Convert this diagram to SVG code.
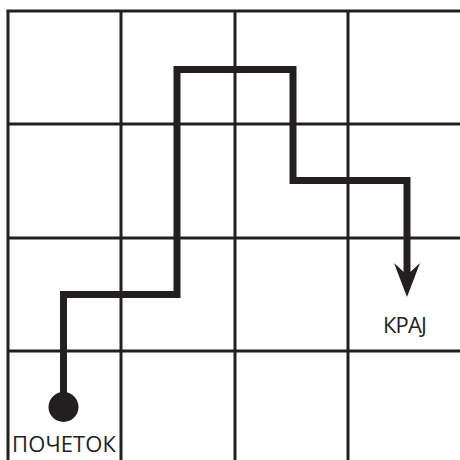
<svg xmlns="http://www.w3.org/2000/svg" width="460" height="460" viewBox="0 0 460 460">
  <style>
    .grid line { stroke: #231f20; stroke-width: 3; }
    .route { fill: none; stroke: #231f20; stroke-width: 7; stroke-linejoin: miter; stroke-linecap: butt; }
    .ink { fill: #231f20; }
    .label { font-family: "Open Sans", "Noto Sans", sans-serif; font-size: 22px; fill: #231f20; }
  </style>

  <rect width="460" height="460" fill="#ffffff"/>

  <!-- 4x4 grid, open on the right and bottom -->
  <g class="grid">
    <line x1="8" y1="11" x2="8" y2="460"/>
    <line x1="121" y1="11" x2="121" y2="460"/>
    <line x1="235" y1="11" x2="235" y2="460"/>
    <line x1="348" y1="11" x2="348" y2="460"/>
    <line x1="6.5" y1="11" x2="460" y2="11"/>
    <line x1="8" y1="124" x2="460" y2="124"/>
    <line x1="8" y1="238" x2="460" y2="238"/>
    <line x1="8" y1="351" x2="460" y2="351"/>
  </g>

  <!-- connector: stepped route from start to end, with arrowhead -->
  <g id="connectors">
    <path class="route" d="M63.5,407 V294.5 H177 V69.5 H293 V180.5 H407 V276"/>
    <path class="ink" d="M394,263 L407,275 L420,263 L407,297 Z"/>
  </g>

  <g id="start">
    <circle class="ink" cx="63.5" cy="407" r="15"/>
    <text class="label" x="12" y="452" textLength="104">ПОЧЕТОК</text>
  </g>

  <g id="end">
    <text class="label" x="383" y="333" textLength="44">КРАЈ</text>
  </g>
</svg>
